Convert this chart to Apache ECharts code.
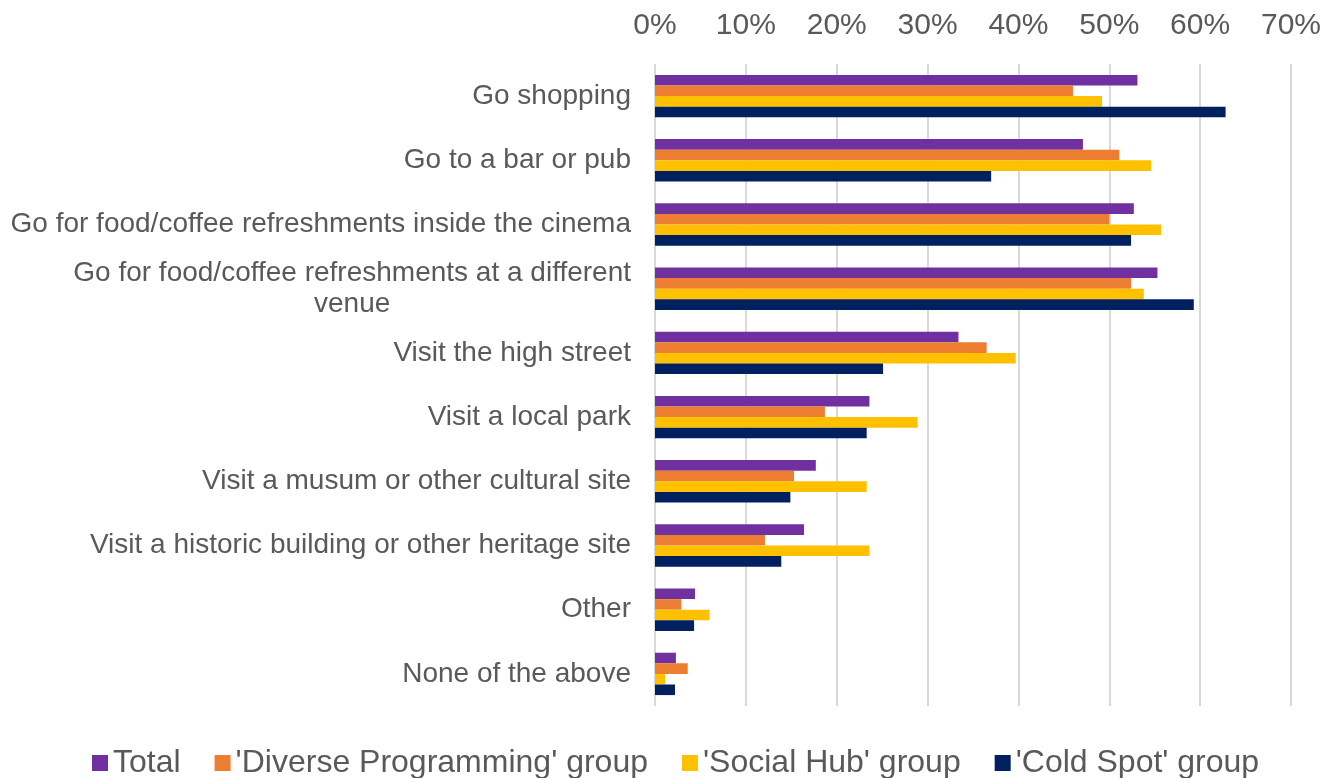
<!DOCTYPE html>
<html>
<head>
<meta charset="utf-8">
<title>Activities combined with a cinema visit</title>
<script src="https://cdn.jsdelivr.net/npm/echarts@6/dist/echarts.min.js"></script>
<style>
  html, body { margin: 0; padding: 0; background: #ffffff; }
  #chart { width: 1338px; height: 778px; }
</style>
</head>
<body>
<div id="chart"></div>
<script>
// Activities, listed top to bottom
const categories = [
  'Go shopping',
  'Go to a bar or pub',
  'Go for food/coffee refreshments inside the cinema',
  'Go for food/coffee refreshments at a different\nvenue',
  'Visit the high street',
  'Visit a local park',
  'Visit a musum or other cultural site',
  'Visit a historic building or other heritage site',
  'Other',
  'None of the above'
];

// Share of respondents (%) per group
const totalValues   = [53.1, 47.1, 52.7, 55.3, 33.4, 23.6, 17.7, 16.4, 4.4, 2.3];
const diverseValues = [46.0, 51.1, 50.0, 52.4, 36.5, 18.7, 15.3, 12.1, 2.9, 3.6];
const socialValues  = [49.2, 54.6, 55.7, 53.8, 39.7, 28.9, 23.3, 23.6, 6.0, 1.1];
const coldValues    = [62.8, 37.0, 52.4, 59.3, 25.1, 23.3, 14.9, 13.9, 4.3, 2.2];

const seriesNames = ['Total', "'Diverse Programming' group", "'Social Hub' group", "'Cold Spot' group"];
const seriesColors = ['#7030A0', '#ED7D31', '#FFC000', '#002060'];
const seriesValues = [totalValues, diverseValues, socialValues, coldValues];

// Axis range and tick step (%)
const axisMin = 0;
const axisMax = 70;
const axisStep = 10;

const FONT = "'Liberation Sans', Arial, sans-serif";
const TEXT_COLOR = '#595959';

const chart = echarts.init(document.getElementById('chart'));

chart.setOption({
  animation: false,
  backgroundColor: '#ffffff',
  textStyle: { fontFamily: FONT },
  grid: { left: 655, right: 47, top: 64, bottom: 72, containLabel: false },
  legend: {
    data: seriesNames,
    top: 747,
    left: 92,
    padding: 0,
    icon: 'rect',
    itemWidth: 16,
    itemHeight: 16,
    itemGap: 34,
    textStyle: { fontSize: 32, color: TEXT_COLOR, fontFamily: FONT }
  },
  xAxis: {
    type: 'value',
    position: 'top',
    min: axisMin,
    max: axisMax,
    interval: axisStep,
    axisLine: { show: false },
    axisTick: { show: false },
    axisLabel: {
      formatter: '{value}%',
      fontSize: 30,
      color: TEXT_COLOR,
      fontFamily: FONT,
      margin: 23
    },
    splitLine: { show: true, lineStyle: { color: '#D9D9D9', width: 2 } }
  },
  yAxis: {
    type: 'category',
    data: categories,
    inverse: true,
    axisLine: { show: false },
    axisTick: { show: false },
    axisLabel: {
      fontSize: 28,
      color: TEXT_COLOR,
      fontFamily: FONT,
      margin: 24,
      lineHeight: 31,
      formatter: function (value) {
        if (value.indexOf('\n') >= 0) {
          return value.split('\n').map(function (line) { return '{c|' + line + '}'; }).join('\n');
        }
        return value;
      },
      rich: {
        c: { align: 'center', fontSize: 28, color: TEXT_COLOR, fontFamily: FONT, lineHeight: 31 }
      }
    }
  },
  series: seriesNames.map(function (name, i) {
    return {
      name: name,
      type: 'bar',
      data: seriesValues[i],
      itemStyle: { color: seriesColors[i] },
      barGap: '0%',
      barCategoryGap: '34%'
    };
  })
});
</script>
</body>
</html>
